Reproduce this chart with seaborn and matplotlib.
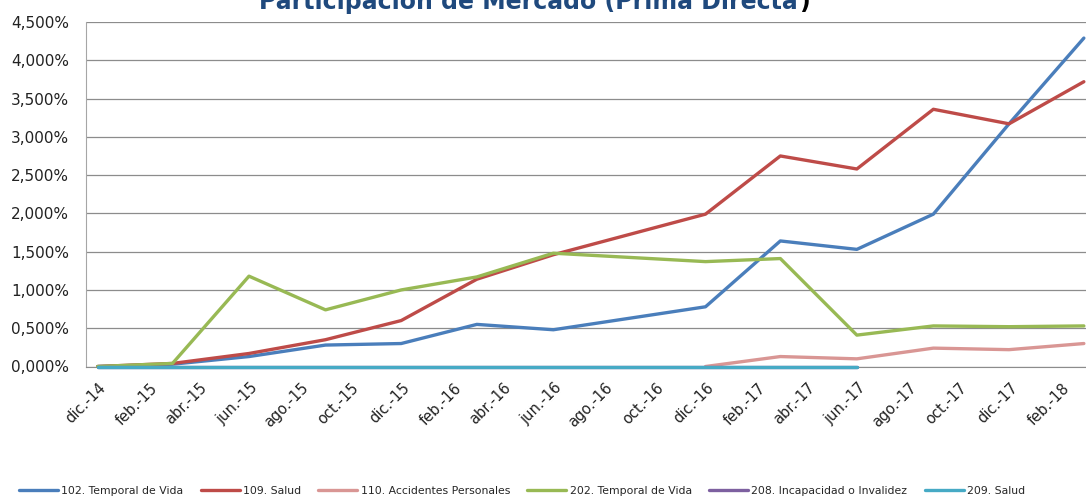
import numpy as np
import pandas as pd
import seaborn as sns
import matplotlib
matplotlib.use("Agg")
import matplotlib.pyplot as plt
from matplotlib.ticker import FuncFormatter

# quarterly points (mid-month, Excel month axis)
fechas = ['2014-12-15', '2015-03-15', '2015-06-15', '2015-09-15', '2015-12-15',
          '2016-03-15', '2016-06-15', '2016-12-15', '2017-03-15', '2017-06-15',
          '2017-09-15', '2017-12-15', '2018-03-15']

s102 = [0.00, 0.03, 0.13, 0.28, 0.30, 0.55, 0.48, 0.78, 1.64, 1.53, 1.99, 3.17, 4.29]
s109 = [0.00, 0.04, 0.17, 0.35, 0.60, 1.14, 1.46, 1.99, 2.75, 2.58, 3.36, 3.17, 3.72]
s110 = [None, None, None, None, None, None, None, 0.00, 0.13, 0.10, 0.24, 0.22, 0.30]
s202 = [0.00, 0.04, 1.18, 0.74, 1.00, 1.17, 1.48, 1.37, 1.41, 0.41, 0.53, 0.52, 0.53]
s208 = [0.00, 0.00, 0.00, 0.00, 0.00, 0.00, 0.00, 0.00, 0.00, 0.00, None, None, None]
s209 = [0.00, 0.00, 0.00, 0.00, 0.00, 0.00, 0.00, 0.00, 0.00, 0.00, None, None, None]

series = ['102. Temporal de Vida', '109. Salud', '110. Accidentes Personales',
          '202. Temporal de Vida', '208. Incapacidad o Invalidez', '209. Salud']
valores = [s102, s109, s110, s202, s208, s209]
colores = ['#4A7EBB', '#BE4B48', '#D99694', '#98B954', '#7D60A0', '#46AAC5']

etiquetas = ['dic.-14', 'feb.-15', 'abr.-15', 'jun.-15', 'ago.-15', 'oct.-15',
             'dic.-15', 'feb.-16', 'abr.-16', 'jun.-16', 'ago.-16', 'oct.-16',
             'dic.-16', 'feb.-17', 'abr.-17', 'jun.-17', 'ago.-17', 'oct.-17',
             'dic.-17', 'feb.-18']

sns.set_style("white")
plt.rcParams['font.family'] = ['DejaVu Sans']

fig = plt.figure(figsize=(10.86, 4.97), dpi=100)
W, H = 1086, 497
left, right, top, bottom = 86, 1098, 22, 366.5
ax = fig.add_axes([left / W, 1 - bottom / H, (right - left) / W, (bottom - top) / H])

x = pd.to_datetime(fechas)
for nombre, vals, col in zip(series, valores, colores):
    y = np.array([np.nan if v is None else v for v in vals], dtype=float)
    df = pd.DataFrame({'fecha': x, 'valor': y}).dropna()
    sns.lineplot(data=df, x='fecha', y='valor', ax=ax, color=col, lw=2.4,
                 label=nombre, legend=False, zorder=3, clip_on=False)

ax.set_xlim(pd.Timestamp('2014-12-01'), pd.Timestamp('2018-04-01'))
ax.set_ylim(0, 4.5)
ax.set_yticks(np.arange(0, 4.51, 0.5))
ax.yaxis.set_major_formatter(FuncFormatter(lambda v, p: f"{v:.3f}".replace('.', ',') + '%'))
ax.grid(axis='y', color='#8C8C8C', lw=0.9)
ax.set_axisbelow(True)

# tick marks at month boundaries, labels centered on the month
marcas = pd.date_range('2014-12-01', '2018-02-01', freq='2MS')
ax.set_xticks(marcas)
ax.set_xticklabels([])
centros = marcas + pd.Timedelta(days=15)
ax.set_xticks(centros, minor=True)
ax.set_xticklabels(etiquetas, minor=True, rotation=45, ha='right',
                   rotation_mode='anchor', fontsize=10.5, color='#222222')
ax.tick_params(axis='x', which='major', length=5, width=0.9, color='#8C8C8C', direction='out')
ax.tick_params(axis='x', which='minor', length=0, pad=10)
ax.tick_params(axis='y', length=6, width=0.9, color='#8C8C8C', labelsize=11,
               labelcolor='#222222', pad=6)
ax.set_xlabel('')
ax.set_ylabel('')
for s in ['top', 'right']:
    ax.spines[s].set_visible(False)
ax.spines['left'].set_color('#A6A6A6')
ax.spines['bottom'].set_color('#8C8C8C')

fig.text(798 / W, 1 - 9 / H, 'Participación de Mercado (Prima Directa', ha='right',
         va='baseline', fontsize=17, fontweight='bold', color='#1F497D')
fig.text(799 / W, 1 - 9 / H, ')', ha='left', va='baseline', fontsize=17,
         fontweight='bold', color='black')

handles, labels = ax.get_legend_handles_labels()
fig.legend(handles, labels, loc='center', bbox_to_anchor=(522 / W, 1 - 491 / H),
           ncol=6, frameon=False, fontsize=7.8, handlelength=3.6,
           handletextpad=0.3, columnspacing=1.6)

fig.savefig('out.png', dpi=100)
